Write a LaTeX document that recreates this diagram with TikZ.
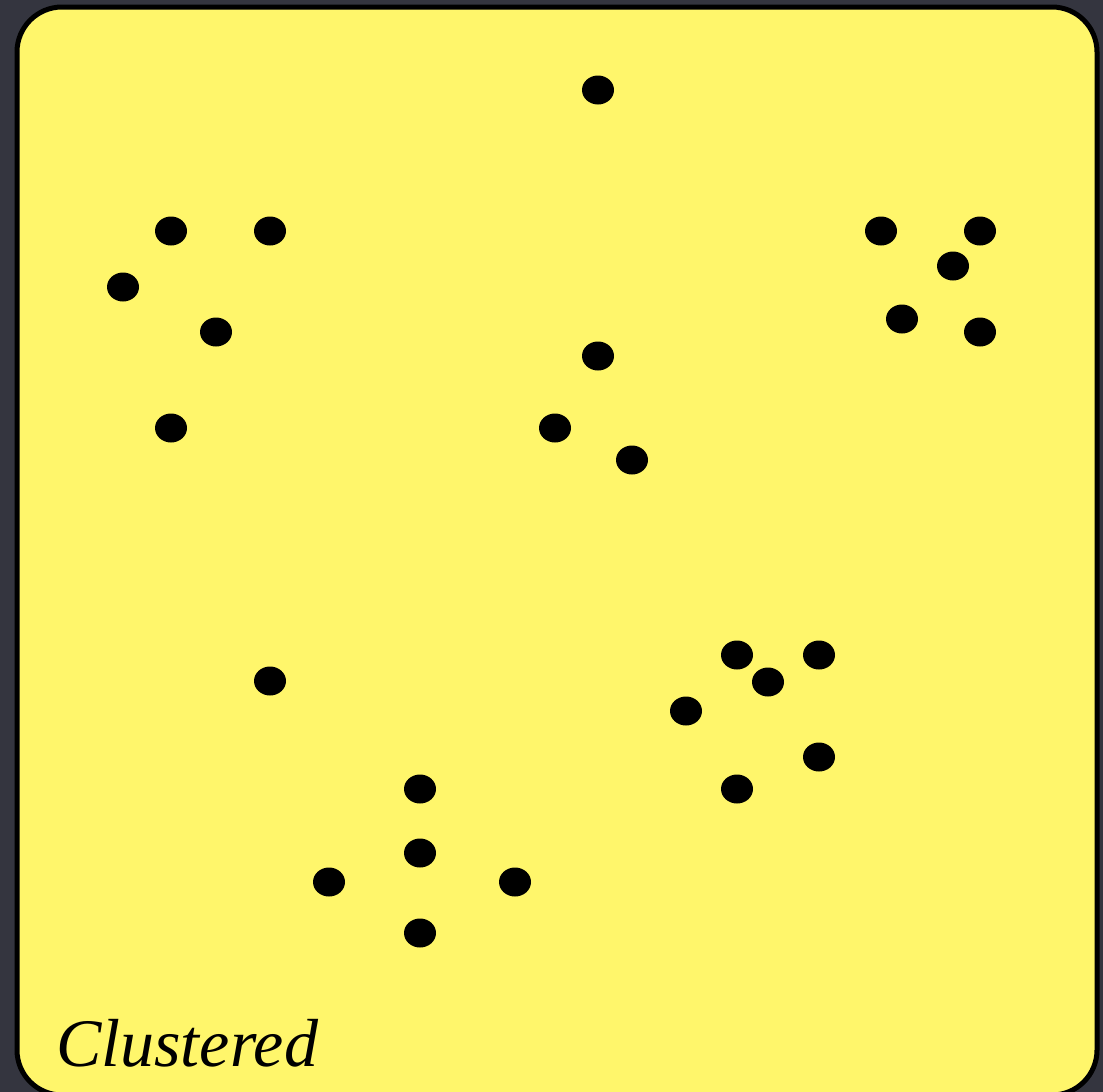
\documentclass[tikz,border=0pt]{standalone}
\usepackage{fontspec}
\setmainfont{Liberation Serif}
\usepackage{tikz}
\usetikzlibrary{positioning, calc}
\definecolor{slatebg}{HTML}{34353F}
\definecolor{cardyellow}{HTML}{FFF66B}
\tikzset{
    cardbox/.style={draw=black, fill=cardyellow, line width=5pt, rounded corners=45pt},
    pointdot/.style={ellipse, fill=black, minimum width=32pt, minimum height=29pt, inner sep=0pt},
    cardlabel/.style={font=\fontsize{68}{80}\selectfont\itshape, anchor=base west, inner sep=0pt},
}
\usetikzlibrary{shapes.geometric}

\begin{document}
\begin{tikzpicture}[x=1pt, y=-1pt]

% page and card
\fill[slatebg] (0,0) rectangle (1103,1092);
\useasboundingbox (0,0) rectangle (1103,1092);
\begin{scope}
\clip (0,0) rectangle (1103,1092);
\draw[cardbox] (17,7) rectangle (1097,1095);
\end{scope}

% scattered points, grouped in clusters
\foreach \px/\py [count=\i] in {
    598/90,
    171/231, 270/231, 123/287, 216/332, 171/428,
    881/231, 980/231, 953/266, 902/319, 980/332,
    598/356, 555/428, 632/460,
    270/681,
    737/655, 819/655, 768/682, 686/711, 819/757, 737/789,
    420/789, 420/853, 329/882, 515/882, 420/933} {
  \node[pointdot] (pt\i) at (\px,\py) {};
}

% caption
\node[cardlabel] (caption) at (56,1066) {Clustered};

\end{tikzpicture}
\end{document}
